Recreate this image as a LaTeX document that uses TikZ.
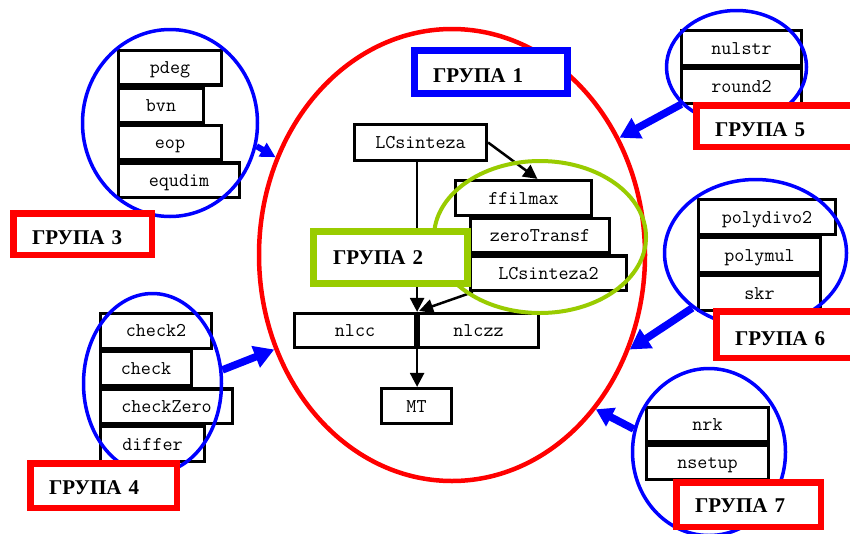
\documentclass[tikz,border=0pt]{standalone}
\usepackage{fontspec}
\setmainfont{Liberation Serif}
\usetikzlibrary{arrows.meta,calc,shapes.geometric}
\definecolor{grn}{RGB}{153,204,0}
\newcommand\mybox[6]{\node[box, minimum width={#4pt-#2pt-3pt}, minimum height={#5pt-#3pt-3pt}] (#1) at ({(#2+#4)/2},{(#3+#5)/2}) {#6};}
\begin{document}
\begin{tikzpicture}[x=1pt,y=-1pt,
  box/.style={draw, line width=3.2pt, fill=white, inner sep=0pt, font=\ttfamily\fontsize{19.5}{22}\selectfont, text height=12pt, text depth=0pt},
  grp/.style={fill=white, text=black, font=\bfseries\fontsize{21}{24}\selectfont, align=left, inner ysep=0pt, text depth=0pt},
  redgrp/.style={grp, draw=red, line width=6.5pt},
  oval/.style={ellipse, draw, inner sep=0pt},
  blueoval/.style={oval, draw=blue, line width=3.5pt},
  blk/.style={line width=2.5pt, -{Triangle[length=14pt,width=14pt]}},
  bar/.style={blue, line width=7.5pt, -{Triangle[length=20pt,width=22pt]}}
]
\useasboundingbox (0,0) rectangle (850,533);
\clip (0,0) rectangle (850,533);
\fill[white] (0,0) rectangle (850,533);

% group 1 ellipse
\node[oval, draw=red, line width=4.5pt, minimum width=386pt, minimum height=452pt] (g1e) at (452,255) {};

% group 1 boxes
\mybox{LCsinteza}{353}{123}{488}{162}{LCsinteza}
\mybox{ffilmax}{454}{179}{593}{217}{ffilmax}
\mybox{zeroTransf}{469}{217}{611}{254.5}{zeroTransf}
\mybox{LCsinteza2}{469}{254.5}{628}{292}{LCsinteza2}
\mybox{nlcc}{293}{312}{417}{349}{nlcc}
\mybox{nlczz}{417}{312}{540}{349}{nlczz}
\mybox{MT}{380}{387}{453}{425}{MT}

\draw[blk] (LCsinteza.east) -- ($(ffilmax.north west)!0.6!(ffilmax.north east)$);
\draw[blk] (LCsinteza.south -| nlcc.north east) -- (nlcc.north east);
\draw[blk] ($(LCsinteza2.south west)+(4,0)$) -- ($(nlcc.north east)+(2,-1)$);
\draw[blk] (nlcc.south east) -- (MT.north -| nlcc.south east);

% group 2
\node[oval, draw=grn, line width=4pt, minimum width=212pt, minimum height=152pt] (g2e) at (540,237) {};
\node[grp, draw=grn, line width=7pt, minimum height=52pt, inner xsep=19.5pt, text width=115pt, text height=14pt] (g2) at (390.5,257.5) {ГРУПА 2};
\node[grp, draw=blue, line width=7pt, minimum height=43pt, inner xsep=18.5pt, text width=116pt, text height=21pt] (g1) at (491,72) {ГРУПА 1};

% group 3
\mybox{pdeg}{117}{49}{223}{86.5}{pdeg}
\mybox{bvn}{117}{86.5}{205}{124}{bvn}
\mybox{eop}{117}{124}{223}{161.5}{eop}
\mybox{equdim}{117}{161.5}{241}{199}{equdim}
\node[blueoval, minimum width=175pt, minimum height=187pt] (g3c) at (170,123) {};
\node[redgrp, minimum height=41.5pt, inner xsep=18.75pt, text width=101pt, text height=21pt] (g3) at (82.5,234) {ГРУПА 3};

% group 4
\mybox{check2}{99}{312}{213}{349.75}{check2}
\mybox{check}{99}{349.75}{193}{387.5}{check}
\mybox{checkZero}{99}{387.5}{234}{425.25}{checkZero}
\mybox{differ}{99}{425.25}{206}{463}{differ}
\node[blueoval, minimum width=138pt, minimum height=180pt] (g4c) at (152.5,383.5) {};
\node[redgrp, minimum height=44.5pt, inner xsep=18.75pt, text width=109pt, text height=17pt] (g4) at (103.5,485.5) {ГРУПА 4};

% group 5
\mybox{nulstr}{680}{29}{803}{67}{nulstr}
\mybox{round2}{680}{67}{803}{105}{round2}
\node[blueoval, minimum width=140pt, minimum height=113pt] (g5c) at (736.5,67) {};
\node[redgrp, minimum height=41.5pt, inner xsep=18.75pt, text width=150pt, text height=20pt] (g5) at (790,126) {ГРУПА 5};

% group 6
\mybox{polydivo2}{697}{198}{837}{236}{polydivo2}
\mybox{polymul}{697}{236}{822}{274}{polymul}
\mybox{skr}{697}{274}{822}{312}{skr}
\node[blueoval, minimum width=182pt, minimum height=147pt] (g6c) at (755.5,253) {};
\node[redgrp, minimum height=46.5pt, inner xsep=18.75pt, text width=130pt, text height=21pt] (g6) at (800,334.5) {ГРУПА 6};

% group 7
\mybox{nrk}{645}{406}{770}{443.5}{nrk}
\mybox{nsetup}{645}{443.5}{770}{481}{nsetup}
\node[blueoval, minimum width=153pt, minimum height=167pt] (g7c) at (709,452) {};
\node[redgrp, minimum height=44.5pt, inner xsep=18.75pt, text width=107pt, text height=16pt] (g7) at (748.5,504.5) {ГРУПА 7};

% blue arrows
\draw[blue, line width=6pt, -{Triangle[length=15pt,width=15pt]}] (g3c.345) -- (g1e.151);
\draw[bar] (g4c.11) -- (g1e.208);
\draw[bar] (g5c.214) -- (g1e.35.6);
\draw[bar] (g6c.221) -- (g1e.332);
\draw[bar, -{Triangle[length=17pt,width=20pt]}] (g7c.163) -- (g1e.313);
\end{tikzpicture}
\end{document}
